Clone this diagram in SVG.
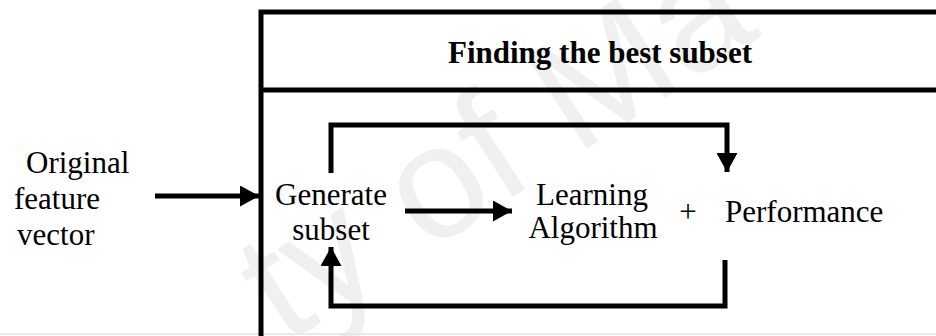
<svg xmlns="http://www.w3.org/2000/svg" width="936" height="336" viewBox="0 0 936 336">
  <style>
    .lbl { font-family: "Liberation Serif", "Times New Roman", serif; font-size: 31px; fill: #000; }
    .title { font-family: "Liberation Serif", "Times New Roman", serif; font-size: 31px; font-weight: bold; fill: #000; }
    .frame { fill: none; stroke: #000; stroke-width: 5; }
    .conn { fill: none; stroke: #000; stroke-width: 5; stroke-linejoin: miter; }
    .mark { font-family: "Liberation Sans", Arial, sans-serif; font-size: 160px; fill: #f0f0f0; }
  </style>
  <defs>
    <marker id="head" viewBox="0 0 19 21" refX="19" refY="10.5" markerWidth="19" markerHeight="21" orient="auto" markerUnits="userSpaceOnUse">
      <path d="M0,0 L19,10.5 L0,21 Z" fill="#000"/>
    </marker>
  </defs>
  <rect width="936" height="336" fill="#fff"/>

  <!-- background watermark -->
  <text class="mark" transform="translate(285,345) rotate(-33)">ty of Ma</text>
  <line x1="0" y1="334" x2="936" y2="334" stroke="#e2e2e2" stroke-width="1.5"/>

  <!-- outer frame with header row -->
  <g id="frame">
    <path class="frame" d="M261,340 V12 H940"/>
    <line class="frame" x1="261" y1="90" x2="940" y2="90"/>
    <text class="title" x="600" y="63" text-anchor="middle">Finding the best subset</text>
  </g>

  <g id="input">
    <text class="lbl" x="26" y="173">Original</text>
    <text class="lbl" x="14" y="209">feature</text>
    <text class="lbl" x="17" y="245">vector</text>
  </g>

  <g id="generate">
    <text class="lbl" x="331" y="205" text-anchor="middle">Generate</text>
    <text class="lbl" x="331" y="240" text-anchor="middle">subset</text>
  </g>

  <g id="learning">
    <text class="lbl" x="592" y="205" text-anchor="middle">Learning</text>
    <text class="lbl" x="593" y="238" text-anchor="middle">Algorithm</text>
  </g>

  <g id="plus">
    <text class="lbl" x="688" y="222" text-anchor="middle">+</text>
  </g>

  <g id="performance">
    <text class="lbl" x="725" y="222">Performance</text>
  </g>

  <g id="connectors">
    <path class="conn" d="M155,196 H259" marker-end="url(#head)"/>
    <path class="conn" d="M405,211 H512" marker-end="url(#head)"/>
    <path class="conn" d="M331,173 V125 H727 V172" marker-end="url(#head)"/>
    <path class="conn" d="M725,260 V306 H331 V247" marker-end="url(#head)"/>
  </g>
</svg>
